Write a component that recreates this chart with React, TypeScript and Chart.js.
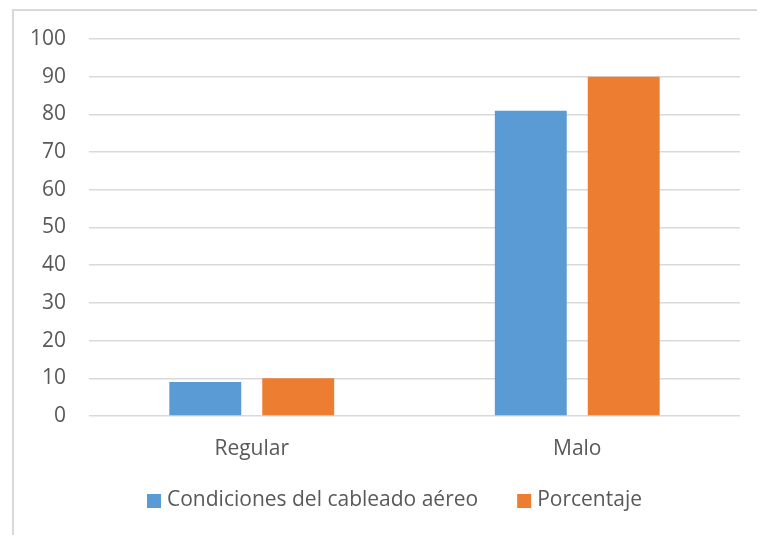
import React, { useEffect, useRef } from "react";
import { Chart, registerables } from "chart.js";

Chart.register(...registerables);

const categories = ["Regular", "Malo"];
const seriesNames = ["Condiciones del cableado aéreo", "Porcentaje"];
const seriesColors = ["#5b9bd5", "#ed7d31"];
const cableadoValues = [9, 81];
const porcentajeValues = [10, 90];
const yMin = 0;
const yMax = 100;
const yStep = 10;

const FONT = "'Open Sans', 'Noto Sans', sans-serif";
const TEXT = "#595959";
const GRID = "#d9d9d9";

// Light frame around the chart (only its top and left edges fall inside the canvas)
const framePlugin = {
  id: "frame",
  beforeDraw(chart: Chart) {
    const ctx = chart.ctx;
    ctx.save();
    ctx.fillStyle = "#ffffff";
    ctx.fillRect(0, 0, chart.width, chart.height);
    ctx.strokeStyle = GRID;
    ctx.lineWidth = 2;
    ctx.beginPath();
    ctx.moveTo(13, chart.height + 5);
    ctx.lineTo(13, 10);
    ctx.lineTo(chart.width + 5, 10);
    ctx.stroke();
    ctx.restore();
  },
};

// Legend row centred under the frame: square swatch, small gap, series name
const bottomLegendPlugin = {
  id: "bottomLegend",
  afterDraw(chart: Chart) {
    const ctx = chart.ctx;
    const centerX = 394.5;
    const centerY = 501;
    const box = 14;
    const gap = 6;
    const itemGap = 39;
    ctx.save();
    ctx.font = `21px ${FONT}`;
    ctx.textBaseline = "middle";
    ctx.textAlign = "left";
    const items = chart.data.datasets.map((ds, i) => ({
      label: String(ds.label),
      color: seriesColors[i],
      width: box + gap + ctx.measureText(String(ds.label)).width,
    }));
    const total =
      items.reduce((s, it) => s + it.width, 0) + itemGap * (items.length - 1);
    let x = centerX - total / 2;
    for (const it of items) {
      ctx.fillStyle = it.color;
      ctx.fillRect(x, centerY - box / 2, box, box);
      ctx.fillStyle = TEXT;
      ctx.fillText(it.label, x + box + gap, centerY - 1);
      x += it.width + itemGap;
    }
    ctx.restore();
  },
};

export default function App() {
  const ref = useRef<HTMLCanvasElement | null>(null);

  useEffect(() => {
    if (!ref.current) return;
    const chart = new Chart(ref.current, {
      type: "bar",
      data: {
        labels: categories,
        datasets: [
          {
            label: seriesNames[0],
            data: cableadoValues,
            backgroundColor: seriesColors[0],
            categoryPercentage: 0.571,
            barPercentage: 0.774,
          },
          {
            label: seriesNames[1],
            data: porcentajeValues,
            backgroundColor: seriesColors[1],
            categoryPercentage: 0.571,
            barPercentage: 0.774,
          },
        ],
      },
      options: {
        responsive: false,
        animation: false,
        devicePixelRatio: 1,
        layout: { padding: { left: 0, right: 17, top: 39, bottom: 59 } },
        plugins: {
          legend: { display: false },
          tooltip: { enabled: false },
        },
        scales: {
          x: {
            grid: { display: false, drawTicks: false },
            border: { display: false },
            ticks: {
              font: { family: FONT, size: 21 },
              color: TEXT,
              padding: 20,
            },
            afterFit(scale: any) {
              scale.height = 60;
            },
          },
          y: {
            min: yMin,
            max: yMax,
            grid: { color: GRID, lineWidth: 1.5, drawTicks: false },
            border: { display: false },
            ticks: {
              stepSize: yStep,
              font: { family: FONT, size: 21 },
              color: TEXT,
              padding: 23,
            },
            afterFit(scale: any) {
              scale.width = 89;
            },
          },
        },
      },
      plugins: [framePlugin, bottomLegendPlugin],
    });
    return () => chart.destroy();
  }, []);

  return (
    <div
      style={{
        position: "fixed",
        left: 0,
        top: 0,
        width: 757,
        height: 535,
        overflow: "hidden",
        background: "#fff",
      }}
    >
      <canvas ref={ref} width={757} height={535} style={{ display: "block" }} />
    </div>
  );
}
